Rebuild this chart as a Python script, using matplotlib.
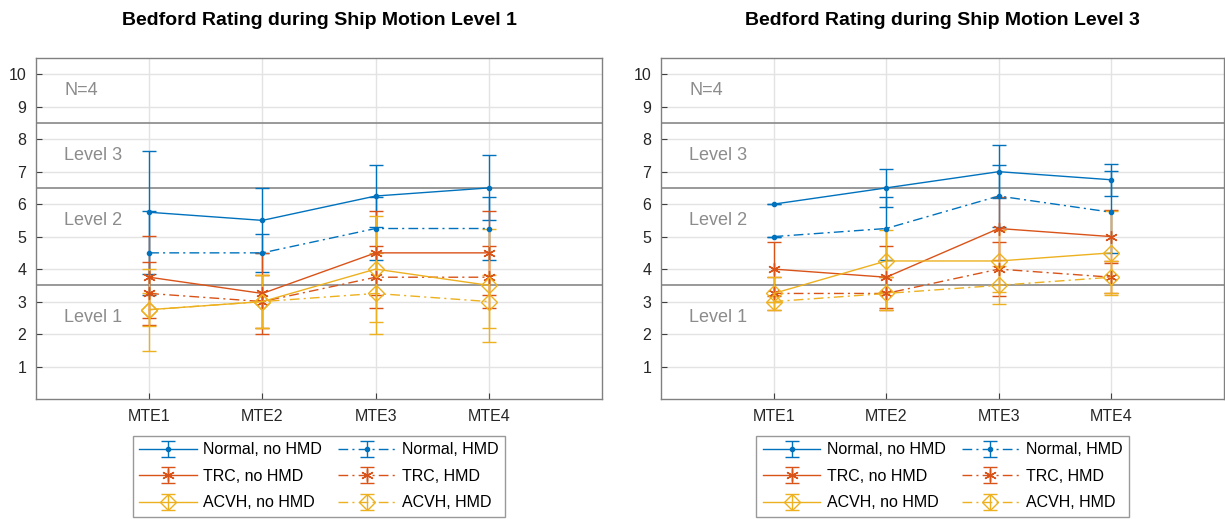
import numpy as np
from matplotlib import pyplot as plt

plt.rcParams['font.family'] = ['Liberation Sans', 'DejaVu Sans']

mte = ["MTE1", "MTE2", "MTE3", "MTE4"]

## Ship Motion Level 1 (mean, std)
l1_normal_nohmd = [5.75, 5.5, 6.25, 6.5]
l1_normal_nohmd_sd = [1.89, 1.0, 0.96, 1.0]
l1_normal_hmd = [4.5, 4.5, 5.25, 5.25]
l1_normal_hmd_sd = [1.29, 0.58, 0.96, 0.96]
l1_trc_nohmd = [3.75, 3.25, 4.5, 4.5]
l1_trc_nohmd_sd = [1.26, 1.26, 1.29, 1.29]
l1_trc_hmd = [3.25, 3.0, 3.75, 3.75]
l1_trc_hmd_sd = [0.96, 0.82, 0.96, 0.96]
l1_acvh_nohmd = [2.75, 3.0, 4.0, 3.5]
l1_acvh_nohmd_sd = [1.26, 0.82, 1.63, 1.73]
l1_acvh_hmd = [2.75, 3.0, 3.25, 3.0]
l1_acvh_hmd_sd = [0.5, 0.82, 1.26, 0.82]

## Ship Motion Level 3
l3_normal_nohmd = [6.0, 6.5, 7.0, 6.75]
l3_normal_nohmd_sd = [0.0, 0.58, 0.82, 0.5]
l3_normal_hmd = [5.0, 5.25, 6.25, 5.75]
l3_normal_hmd_sd = [0.0, 0.96, 0.96, 1.26]
l3_trc_nohmd = [4.0, 3.75, 5.25, 5.0]
l3_trc_nohmd_sd = [0.82, 0.96, 0.96, 0.82]
l3_trc_hmd = [3.25, 3.25, 4.0, 3.75]
l3_trc_hmd_sd = [0.5, 0.5, 0.82, 0.5]
l3_acvh_nohmd = [3.25, 4.25, 4.25, 4.5]
l3_acvh_nohmd_sd = [0.5, 0.96, 0.96, 1.29]
l3_acvh_hmd = [3.0, 3.25, 3.5, 3.75]
l3_acvh_hmd_sd = [0.0, 0.5, 0.58, 0.5]

level_lines = [3.5, 6.5, 8.5]
level_texts = ["Level 1", "Level 2", "Level 3", "N=4"]
level_text_y = [2.5, 5.5, 7.5, 9.5]

blue = "#0072BD"
orange = "#D95319"
yellow = "#EDB120"

# label, color, linestyle, marker, markersize
styles = [
    ("Normal, no HMD", blue, "-", ".", 6),
    ("Normal, HMD", blue, "-.", ".", 6),
    ("TRC, no HMD", orange, "-", (6, 2, 0), 9),
    ("TRC, HMD", orange, "-.", (6, 2, 0), 9),
    ("ACVH, no HMD", yellow, "-", "D", 8),
    ("ACVH, HMD", yellow, "-.", "D", 8),
]

panels = [
    ("Bedford Rating during Ship Motion Level 1",
     [(l1_normal_nohmd, l1_normal_nohmd_sd), (l1_normal_hmd, l1_normal_hmd_sd),
      (l1_trc_nohmd, l1_trc_nohmd_sd), (l1_trc_hmd, l1_trc_hmd_sd),
      (l1_acvh_nohmd, l1_acvh_nohmd_sd), (l1_acvh_hmd, l1_acvh_hmd_sd)]),
    ("Bedford Rating during Ship Motion Level 3",
     [(l3_normal_nohmd, l3_normal_nohmd_sd), (l3_normal_hmd, l3_normal_hmd_sd),
      (l3_trc_nohmd, l3_trc_nohmd_sd), (l3_trc_hmd, l3_trc_hmd_sd),
      (l3_acvh_nohmd, l3_acvh_nohmd_sd), (l3_acvh_hmd, l3_acvh_hmd_sd)]),
]

fig = plt.figure(figsize=(12.25, 5.19), dpi=100)
W, H = 1225, 519
boxes = [(36, 58, 566, 341), (661, 58, 563, 341)]  # x, top, width, height in px

x = np.arange(1, len(mte) + 1)

for (title, series), (bx, by, bw, bh) in zip(panels, boxes):
    ax = fig.add_axes([bx / W, 1 - (by + bh) / H, bw / W, bh / H])
    handles = []
    for (vals, sd), (lab, col, ls, mk, ms) in zip(series, styles):
        h = ax.errorbar(x, vals, yerr=sd, color=col, linestyle=ls, lw=1.0,
                        marker=mk, markersize=ms, mfc="none" if mk == "D" else col,
                        mew=1.0, capsize=5, capthick=1.0, elinewidth=1.0,
                        dashes=(7, 3, 1.5, 3) if ls == "-." else (None, None),
                        label=lab)
        handles.append(h)

    for yl in level_lines:
        ax.axhline(yl, color="#888888", lw=1.2, zorder=1)
    for t, ty in zip(level_texts, level_text_y):
        ax.text(0.25, ty, t, color="#8c8c8c", fontsize=13, va="center", ha="left")

    ax.set_xlim(0, 5)
    ax.set_ylim(0, 10.5)
    ax.set_xticks(x)
    ax.set_xticklabels(mte)
    ax.set_yticks(np.arange(1, 11))
    ax.grid(True, color="#e3e3e3", lw=1.0, zorder=0)
    ax.set_axisbelow(True)
    ax.tick_params(direction="in", length=4, width=0.8, color="#404040",
                   labelsize=11.5, labelcolor="#262626", pad=7)
    for sp in ax.spines.values():
        sp.set_color("#808080")
        sp.set_linewidth(1.0)
    ax.set_title(title, fontsize=14, fontweight="bold", pad=24)

    # legend is filled column-wise, so reorder: no HMD on the left, HMD on the right
    order = [0, 2, 4, 1, 3, 5]
    leg = ax.legend([handles[i] for i in order], [styles[i][0] for i in order],
                    ncol=2, loc="upper center", bbox_to_anchor=(0.5, -0.085),
                    fontsize=11.5, frameon=True, fancybox=False, edgecolor="#808080",
                    handlelength=3.6, columnspacing=1.0, handletextpad=0.4,
                    borderpad=0.4, labelspacing=0.72)
    leg.get_frame().set_linewidth(1.0)

plt.savefig("out.png", dpi=100)
